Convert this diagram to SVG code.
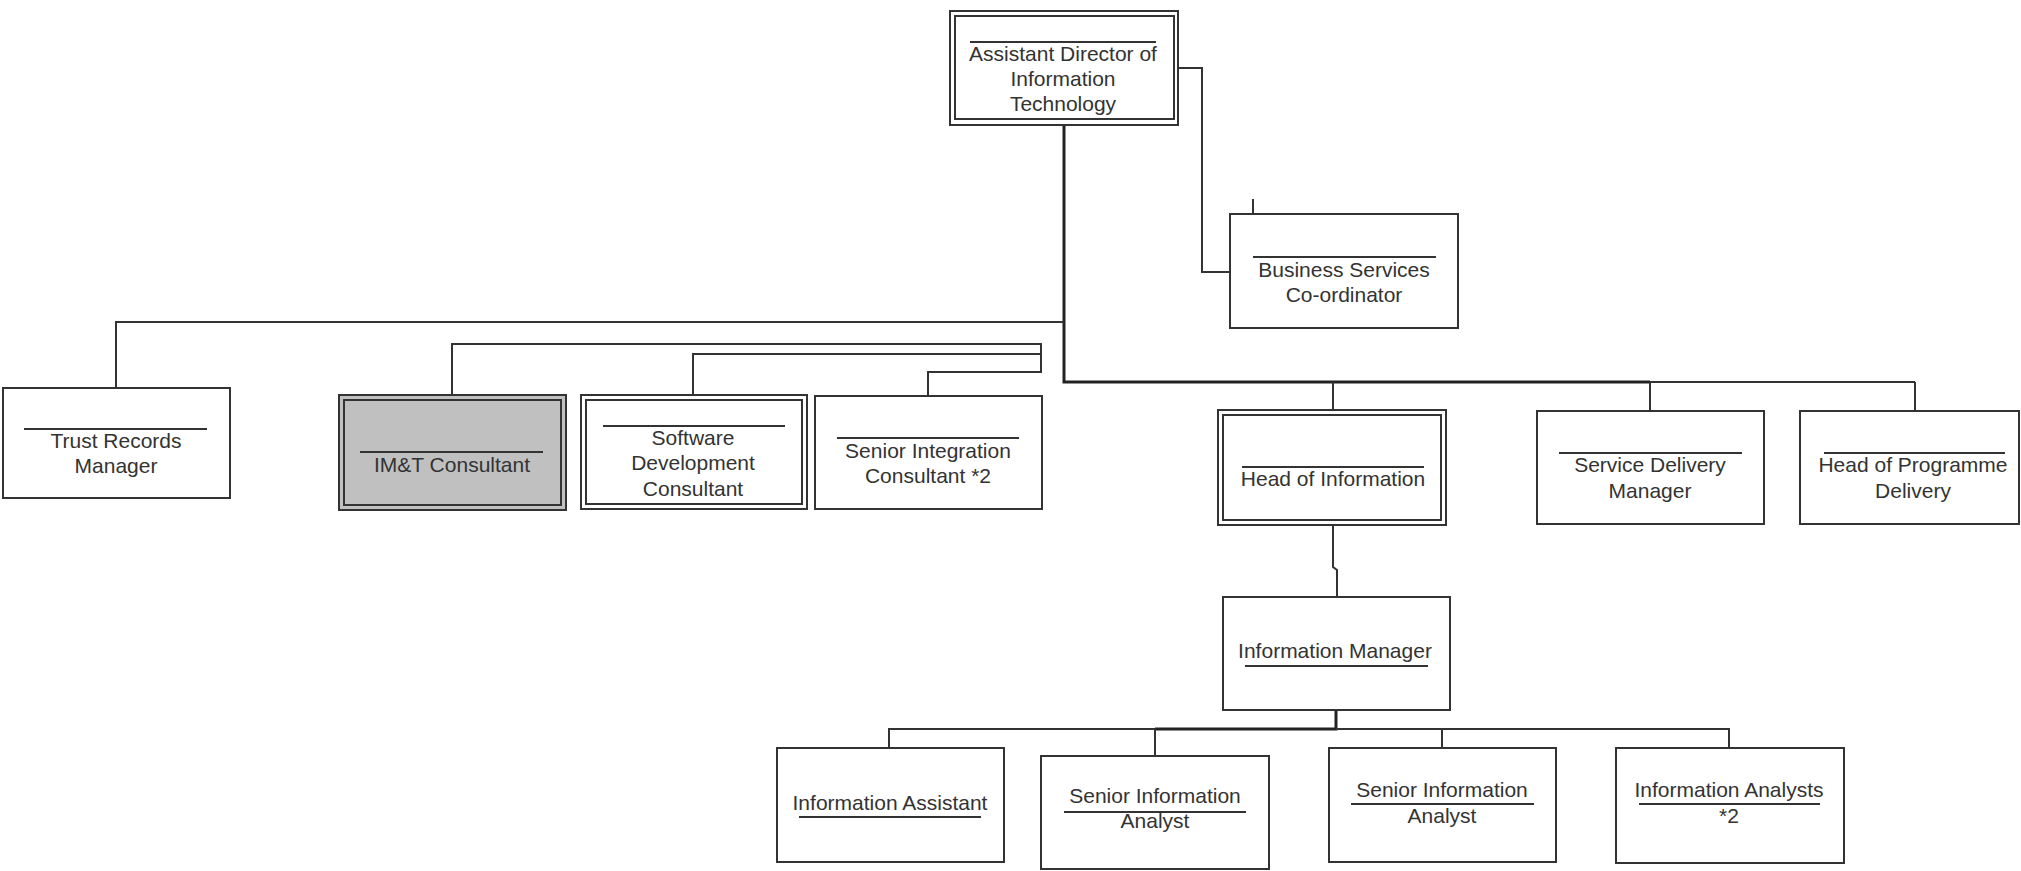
<svg xmlns="http://www.w3.org/2000/svg" width="2021" height="871" viewBox="0 0 2021 871">
<style>
.bx{fill:#fff;stroke:#333;stroke-width:2}
.gr{fill:#c0c0c0;stroke:#333;stroke-width:2}
.ln{fill:none;stroke:#333;stroke-width:2}
.tk{fill:none;stroke:#222;stroke-width:3}
.rl{stroke:#333;stroke-width:2}
text{font-family:"Liberation Sans",Arial,sans-serif;font-size:21px;fill:#333;text-anchor:middle}
</style>
<rect width="2021" height="871" fill="#fff"/>
<g id="connectors">
<path class="tk" d="M1064 125V382H1650"/>
<path class="ln" d="M1650 382H1915"/>
<path class="ln" d="M1064 322H116V388"/>
<path class="ln" d="M1178 68H1202V272H1230"/>
<path class="ln" d="M1253 199V214"/>
<path class="ln" d="M452 395V344H1041V372H928V396"/>
<path class="ln" d="M693 395V354H1041"/>
<path class="ln" d="M1333 382V410"/>
<path class="ln" d="M1650 382V411"/>
<path class="ln" d="M1915 382V411"/>
<path class="ln" d="M1333 525V567L1337 570V597"/>
<path class="tk" d="M1336 710V729H1155"/>
<path class="ln" d="M1155 729H889V748"/>
<path class="ln" d="M1155 729V756"/>
<path class="ln" d="M1336 729H1729V748"/>
<path class="ln" d="M1442 729V748"/>
</g>
<g id="n-adit">
<rect class="bx" x="950" y="11" width="228" height="114"/>
<rect class="bx" x="955" y="16" width="219" height="103"/>
<line class="rl" x1="970" y1="42" x2="1156" y2="42"/>
<text x="1063" y="61">Assistant Director of</text>
<text x="1063" y="86">Information</text>
<text x="1063" y="111">Technology</text>
</g>
<g id="n-bsc">
<rect class="bx" x="1230" y="214" width="228" height="114"/>
<line class="rl" x1="1253" y1="257" x2="1436" y2="257"/>
<text x="1344" y="277">Business Services</text>
<text x="1344" y="302">Co-ordinator</text>
</g>
<g id="n-trm">
<rect class="bx" x="3" y="388" width="227" height="110"/>
<line class="rl" x1="24" y1="429" x2="207" y2="429"/>
<text x="116" y="448">Trust Records</text>
<text x="116" y="473">Manager</text>
</g>
<g id="n-imt">
<rect class="gr" x="339" y="395" width="227" height="115"/>
<rect class="gr" x="344" y="400" width="217" height="105"/>
<line class="rl" x1="360" y1="452" x2="543" y2="452"/>
<text x="452" y="472">IM&amp;T Consultant</text>
</g>
<g id="n-sdc">
<rect class="bx" x="581" y="395" width="226" height="114"/>
<rect class="bx" x="586" y="400" width="216" height="104"/>
<line class="rl" x1="603" y1="426" x2="785" y2="426"/>
<text x="693" y="445">Software</text>
<text x="693" y="470">Development</text>
<text x="693" y="496">Consultant</text>
</g>
<g id="n-sic">
<rect class="bx" x="815" y="396" width="227" height="113"/>
<line class="rl" x1="837" y1="438" x2="1019" y2="438"/>
<text x="928" y="458">Senior Integration</text>
<text x="928" y="483">Consultant *2</text>
</g>
<g id="n-hoi">
<rect class="bx" x="1218" y="410" width="228" height="115"/>
<rect class="bx" x="1223" y="415" width="218" height="105"/>
<line class="rl" x1="1242" y1="467" x2="1424" y2="467"/>
<text x="1333" y="486">Head of Information</text>
</g>
<g id="n-sdm">
<rect class="bx" x="1537" y="411" width="227" height="113"/>
<line class="rl" x1="1559" y1="453" x2="1742" y2="453"/>
<text x="1650" y="472">Service Delivery</text>
<text x="1650" y="498">Manager</text>
</g>
<g id="n-hpd">
<rect class="bx" x="1800" y="411" width="219" height="113"/>
<line class="rl" x1="1824" y1="453" x2="2005" y2="453"/>
<text x="1913" y="472">Head of Programme</text>
<text x="1913" y="498">Delivery</text>
</g>
<g id="n-im">
<rect class="bx" x="1223" y="597" width="227" height="113"/>
<line class="rl" x1="1245" y1="666" x2="1428" y2="666"/>
<text x="1335" y="658">Information Manager</text>
</g>
<g id="n-ia">
<rect class="bx" x="777" y="748" width="227" height="114"/>
<line class="rl" x1="799" y1="817" x2="981" y2="817"/>
<text x="890" y="810">Information Assistant</text>
</g>
<g id="n-sia1">
<rect class="bx" x="1041" y="756" width="228" height="113"/>
<line class="rl" x1="1064" y1="812" x2="1246" y2="812"/>
<text x="1155" y="803">Senior Information</text>
<text x="1155" y="828">Analyst</text>
</g>
<g id="n-sia2">
<rect class="bx" x="1329" y="748" width="227" height="114"/>
<line class="rl" x1="1351" y1="804" x2="1534" y2="804"/>
<text x="1442" y="797">Senior Information</text>
<text x="1442" y="823">Analyst</text>
</g>
<g id="n-ia2">
<rect class="bx" x="1616" y="748" width="228" height="115"/>
<line class="rl" x1="1639" y1="804" x2="1820" y2="804"/>
<text x="1729" y="797">Information Analysts</text>
<text x="1729" y="823">*2</text>
</g>
</svg>
